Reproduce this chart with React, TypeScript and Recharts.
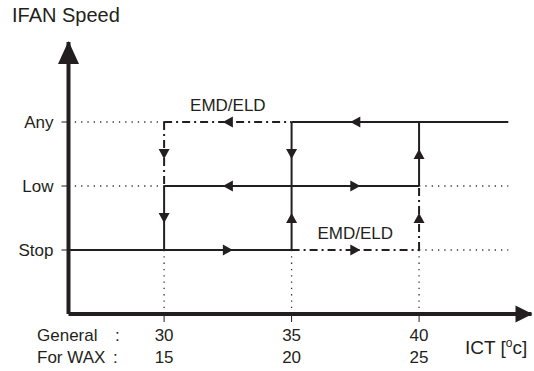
import React from "react";
import { ComposedChart, Line, Scatter, XAxis, YAxis } from "recharts";

// axis ranges (x = ICT general temperature, y = fan level index)
const xDomain = [26.25, 44.41];
const yDomain = [0, 4.25];

const generalTicks = [30, 35, 40];
const waxTicks = [15, 20, 25];
const levelTicks = [1, 2, 3];
const levelNames = ["Stop", "Low", "Any"];

// path segments: pairs of [ict, level]
const solidSegments = [
  [[35, 3], [43.5, 3]],
  [[30, 2], [40, 2]],
  [[26.25, 1], [35, 1]],
  [[30, 2], [30, 1]],
  [[35, 3], [35, 1]],
  [[40, 2], [40, 3]],
];

const dashDotSegments = [
  [[30, 3], [35, 3]],
  [[30, 3], [30, 2]],
  [[35, 1], [40, 1]],
  [[40, 1], [40, 2]],
];

const dottedSegments = [
  [[26.25, 3], [30, 3]],
  [[26.25, 2], [30, 2]],
  [[40, 2], [43.5, 2]],
  [[40, 1], [43.5, 1]],
  [[30, 1], [30, 0]],
  [[35, 1], [35, 0]],
  [[40, 1], [40, 0]],
];

const arrows = [
  { x: 37.5, y: 3, dir: "left" },
  { x: 32.5, y: 3, dir: "left" },
  { x: 32.5, y: 2, dir: "left" },
  { x: 37.5, y: 2, dir: "right" },
  { x: 32.5, y: 1, dir: "right" },
  { x: 37.5, y: 1, dir: "right" },
  { x: 30, y: 2.5, dir: "down" },
  { x: 30, y: 1.5, dir: "down" },
  { x: 35, y: 2.5, dir: "down" },
  { x: 35, y: 1.5, dir: "up" },
  { x: 40, y: 2.5, dir: "up" },
  { x: 40, y: 1.5, dir: "up" },
];

const axisArrows = [
  { x: xDomain[0], y: yDomain[1], dir: "axisUp" },
  { x: xDomain[1], y: yDomain[0], dir: "axisRight" },
];

const notes = [
  { x: 32.5, y: 3, text: "EMD/ELD" },
  { x: 37.5, y: 1, text: "EMD/ELD" },
];

const INK = "#231f20";
const FONT = "'Liberation Sans', Arial, sans-serif";

const toPoints = (seg: number[][]) => seg.map(([x, y]) => ({ x, y }));

const ArrowShape = (props: any) => {
  const { cx, cy, payload } = props;
  const d = payload.dir;
  let pts = "";
  if (d === "left") pts = `${cx - 5},${cy} ${cx + 5},${cy - 5.5} ${cx + 5},${cy + 5.5}`;
  else if (d === "right") pts = `${cx + 5},${cy} ${cx - 5},${cy - 5.5} ${cx - 5},${cy + 5.5}`;
  else if (d === "up") pts = `${cx},${cy - 5} ${cx - 5.5},${cy + 5} ${cx + 5.5},${cy + 5}`;
  else if (d === "down") pts = `${cx},${cy + 5} ${cx - 5.5},${cy - 5} ${cx + 5.5},${cy - 5}`;
  else if (d === "axisUp") pts = `${cx},${cy - 1} ${cx - 10.5},${cy + 22} ${cx + 10.5},${cy + 22}`;
  else if (d === "axisRight") pts = `${cx + 1},${cy} ${cx - 16},${cy - 8.5} ${cx - 16},${cy + 8.5}`;
  return <polygon points={pts} fill={INK} />;
};

const NoteShape = (props: any) => {
  const { cx, cy, payload } = props;
  return (
    <text x={cx} y={cy - 11} textAnchor="middle" fontSize={17} fontFamily={FONT} fill={INK}>
      {payload.text}
    </text>
  );
};

const XTick = (props: any) => {
  const { x, y, payload } = props;
  const i = generalTicks.indexOf(payload.value);
  const style = { fontSize: 17, fontFamily: FONT, fill: INK };
  return (
    <g>
      <text x={x} y={y + 17} textAnchor="middle" {...style}>
        {payload.value}
      </text>
      <text x={x} y={y + 39} textAnchor="middle" {...style}>
        {waxTicks[i]}
      </text>
      {i === 0 && (
        <g>
          <text x={37} y={y + 17} {...style}>General</text>
          <text x={115} y={y + 17} {...style}>:</text>
          <text x={37} y={y + 39} {...style}>For WAX</text>
          <text x={113} y={y + 39} {...style}>:</text>
        </g>
      )}
    </g>
  );
};

export default function App() {
  return (
    <div style={{ position: "absolute", left: 0, top: 0, background: "#fff" }}>
      <ComposedChart width={534} height={371} margin={{ top: 42, right: 2.5, left: 0, bottom: 0 }}>
        <XAxis
          type="number"
          dataKey="x"
          domain={xDomain}
          ticks={generalTicks}
          height={57}
          axisLine={{ stroke: INK, strokeWidth: 4 }}
          tickLine={{ stroke: INK, strokeWidth: 1 }}
          tickSize={8}
          tickMargin={2}
          tick={<XTick />}
          label={{
            content: () => (
              <text x={465} y={354} fontSize={19} fontFamily={FONT} fill={INK}>
                ICT [
                <tspan fontSize={12} dy={-7}>o</tspan>
                <tspan dy={7}>c]</tspan>
              </text>
            ),
          }}
        />
        <YAxis
          type="number"
          dataKey="y"
          domain={yDomain}
          ticks={levelTicks}
          width={68.5}
          axisLine={{ stroke: INK, strokeWidth: 4 }}
          tickLine={{ stroke: INK, strokeWidth: 1 }}
          tickSize={7}
          tickMargin={8}
          tick={{ fontSize: 17, fontFamily: FONT, fill: INK }}
          tickFormatter={(v: number) => levelNames[levelTicks.indexOf(v)]}
          label={{
            content: () => (
              <text x={12} y={22} fontSize={20} fontFamily={FONT} fill={INK}>
                IFAN Speed
              </text>
            ),
          }}
        />
        {dottedSegments.map((seg, i) => (
          <Line
            key={`dot-${i}`}
            data={toPoints(seg)}
            dataKey="y"
            type="linear"
            stroke="#333"
            strokeWidth={1.3}
            strokeDasharray="1.3 5"
            dot={false}
            activeDot={false}
            isAnimationActive={false}
          />
        ))}
        {dashDotSegments.map((seg, i) => (
          <Line
            key={`dd-${i}`}
            data={toPoints(seg)}
            dataKey="y"
            type="linear"
            stroke={INK}
            strokeWidth={2}
            strokeDasharray="8 4 2 4"
            dot={false}
            activeDot={false}
            isAnimationActive={false}
          />
        ))}
        {solidSegments.map((seg, i) => (
          <Line
            key={`s-${i}`}
            data={toPoints(seg)}
            dataKey="y"
            type="linear"
            stroke={INK}
            strokeWidth={2}
            dot={false}
            activeDot={false}
            isAnimationActive={false}
          />
        ))}
        <Scatter data={arrows} dataKey="y" shape={<ArrowShape />} isAnimationActive={false} />
        <Scatter data={axisArrows} dataKey="y" shape={<ArrowShape />} isAnimationActive={false} />
        <Scatter data={notes} dataKey="y" shape={<NoteShape />} isAnimationActive={false} />
      </ComposedChart>
    </div>
  );
}
